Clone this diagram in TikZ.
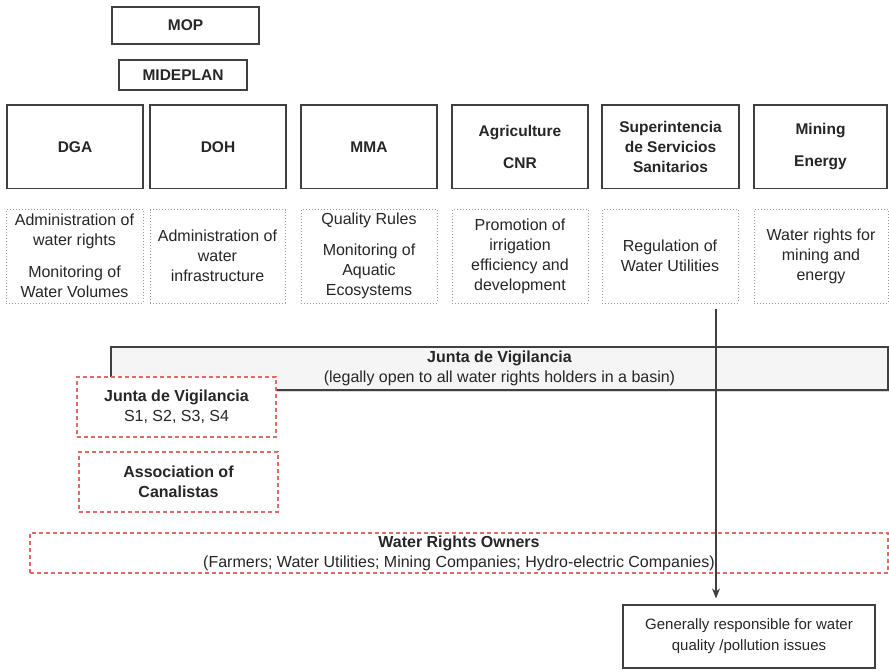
\documentclass[tikz,border=0pt]{standalone}
\usepackage{fontspec}
\setmainfont{Liberation Sans}
\usetikzlibrary{arrows.meta,shadows}
\definecolor{txt}{HTML}{262626}
\definecolor{edge}{HTML}{404040}
\definecolor{redd}{HTML}{E06A6A}
\tikzset{
  base/.style={align=center, inner sep=0pt, text=txt, font=\fontsize{16}{20}\selectfont},
  headbox/.style={base, draw=edge, line width=1.2pt, font=\bfseries\fontsize{15.5}{20}\selectfont},
  taskbox/.style={base, draw=gray!80, dotted, line width=1pt},
  redbox/.style={base, draw=redd, dashed, dash pattern=on 4pt off 3pt, line width=1.3pt, fill=white},
  juntabox/.style={base, draw=edge, line width=1.2pt, fill=gray!8, drop shadow={shadow xshift=1.5pt, shadow yshift=-1.5pt, fill=gray!60}},
  plainbox/.style={base, draw=edge, line width=1.2pt, fill=white},
  conn/.style={draw=edge, line width=1.2pt, -{Stealth[length=10pt,width=8pt]}}
}
\begin{document}
\begin{tikzpicture}[x=1pt,y=-1pt]
\useasboundingbox (0,0) rectangle (889,672);
% top
\node[headbox, minimum width=147pt, minimum height=37pt] (mop) at (185.5,25.5) {MOP};
\node[headbox, minimum width=128pt, minimum height=30pt] (mideplan) at (183,75) {MIDEPLAN};
% headers
\node[headbox, minimum width=136pt, minimum height=83.5pt] (dga) at (75,146.75) {DGA};
\node[headbox, minimum width=136pt, minimum height=83.5pt] (doh) at (218,146.75) {DOH};
\node[headbox, minimum width=136pt, minimum height=83.5pt] (mma) at (369,146.75) {MMA};
\node[headbox, minimum width=136pt, minimum height=83.5pt] (agri) at (520,146.75) {Agriculture\\[12pt]CNR};
\node[headbox, minimum width=137pt, minimum height=83.5pt] (super) at (670.5,146.75) {Superintencia\\de Servicios\\Sanitarios};
\node[headbox, minimum width=133pt, minimum height=83.5pt] (mining) at (820.5,146.75) {Mining\\[12pt]Energy};
% tasks
\node[taskbox, minimum width=137pt, minimum height=93.5pt] (tdga) at (74.5,256.25) {Administration of\\water rights\\[12pt]Monitoring of\\Water Volumes};
\node[taskbox, minimum width=135pt, minimum height=93.5pt] (tdoh) at (217.5,256.25) {Administration of\\water\\infrastructure};
\node[taskbox, minimum width=136pt, minimum height=93.5pt] (tmma) at (369,256.25) {Quality Rules\\[11pt]Monitoring of\\Aquatic\\Ecosystems};
\node[taskbox, minimum width=136pt, minimum height=93.5pt] (tagri) at (520,256.25) {Promotion of\\irrigation\\efficiency and\\development};
\node[taskbox, minimum width=136pt, minimum height=93.5pt] (tsuper) at (670,256.25) {Regulation of\\Water Utilities};
\node[taskbox, minimum width=134pt, minimum height=93.5pt] (tmining) at (821,256.25) {Water rights for\\mining and\\energy};
% junta
\node[juntabox, minimum width=777pt, minimum height=43pt] (junta) at (499.5,368.5) {\textbf{Junta de Vigilancia}\\(legally open to all water rights holders in a basin)};
\node[redbox, minimum width=199pt, minimum height=60pt] (jvs) at (176.5,407) {\textbf{Junta de Vigilancia}\\S1, S2, S3, S4};
\node[redbox, minimum width=199pt, minimum height=60pt] (assoc) at (178.5,482) {\textbf{Association of}\\\textbf{Canalistas}};
\node[redbox, minimum width=858pt, minimum height=40pt] (wro) at (459,553) {\textbf{Water Rights Owners}\\(Farmers; Water Utilities; Mining Companies; Hydro-electric Companies)};
\node[plainbox, minimum width=252pt, minimum height=63pt, font=\fontsize{15}{21}\selectfont] (resp) at (749,636.5) {Generally responsible for water\\quality /pollution issues};
% connector
\coordinate (start) at ([yshift=-5pt]tsuper.south -| 716,0);
\coordinate (end) at (resp.north -| 716,0);
\draw[conn, shorten >=6pt] (start) -- (end);
\end{tikzpicture}
\end{document}
